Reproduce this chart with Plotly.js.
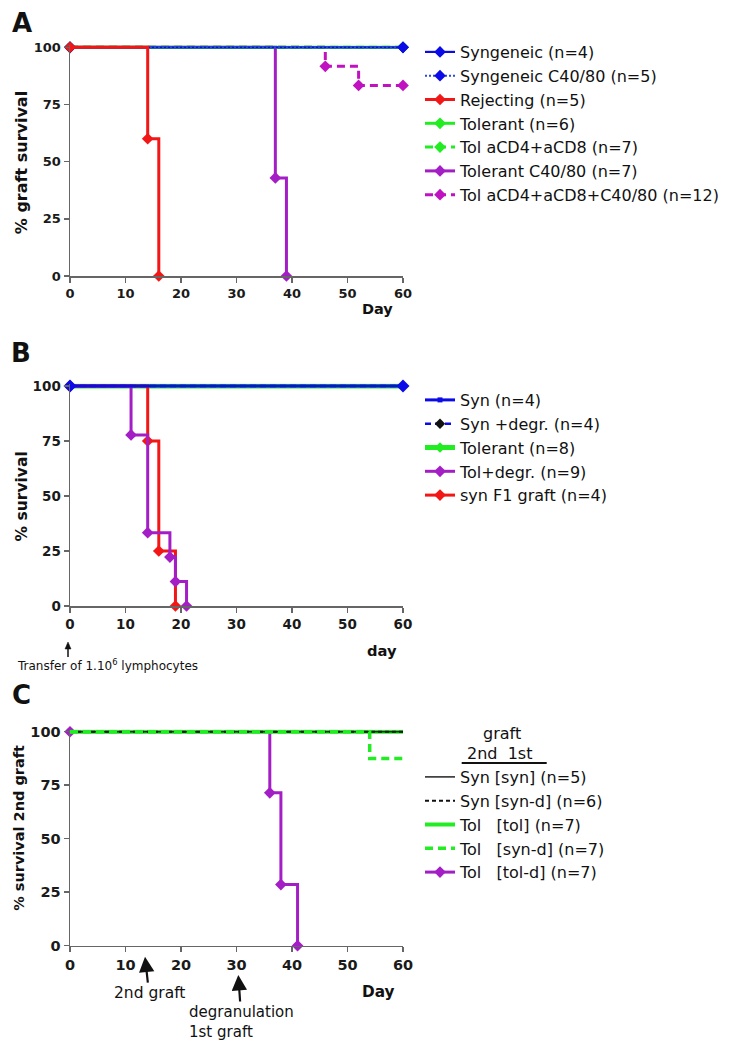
<!DOCTYPE html>
<html>
<head>
<meta charset="utf-8">
<script src="https://cdn.plot.ly/plotly-3.0.1.min.js"></script>
<style>html,body{margin:0;padding:0;background:#fff;}#chart{width:731px;height:1050px;}</style>
</head>
<body>
<div id="chart"></div>
<script>
// ---------- DATA ----------
// Panel A
const A_labels = ["Syngeneic (n=4)", "Syngeneic C40/80 (n=5)", "Rejecting (n=5)", "Tolerant (n=6)",
  "Tol aCD4+aCD8 (n=7)", "Tolerant C40/80 (n=7)", "Tol aCD4+aCD8+C40/80 (n=12)"];
const A_syn_x = [0, 60],            A_syn_y = [100, 100];
const A_synC_x = [0, 60],           A_synC_y = [100, 100];
const A_rej_x = [0, 14, 16],        A_rej_y = [100, 60, 0];
const A_tol_x = [0, 60],            A_tol_y = [100, 100];
const A_tolCD_x = [0, 60],          A_tolCD_y = [100, 100];
const A_tolC_x = [0, 37, 39],       A_tolC_y = [100, 42.86, 0];
const A_tolCDC_x = [0, 46, 52, 60], A_tolCDC_y = [100, 91.67, 83.33, 83.33];

// Panel B
const B_labels = ["Syn (n=4)", "Syn +degr. (n=4)", "Tolerant (n=8)", "Tol+degr. (n=9)", "syn F1 graft (n=4)"];
const B_syn_x = [0, 60],  B_syn_y = [100, 100];
const B_synD_x = [0, 60], B_synD_y = [100, 100];
const B_tol_x = [0, 60],  B_tol_y = [100, 100];
const B_tolD_x = [0, 11, 14, 18, 19, 21], B_tolD_y = [100, 77.78, 33.33, 22.22, 11.11, 0];
const B_f1_x = [0, 14, 16, 19],           B_f1_y = [100, 75, 25, 0];

// Panel C
const C_labels = ["Syn [syn] (n=5)", "Syn [syn-d] (n=6)", "Tol\u00A0\u00A0\u00A0[tol] (n=7)",
  "Tol\u00A0\u00A0\u00A0[syn-d] (n=7)", "Tol\u00A0\u00A0\u00A0[tol-d] (n=7)"];
const C_syn_x = [0, 60],  C_syn_y = [100, 100];
const C_synD_x = [0, 60], C_synD_y = [100, 100];
const C_tol_x = [0, 60],  C_tol_y = [100, 100];
const C_tolSynD_x = [0, 54, 60],      C_tolSynD_y = [100, 87.5, 87.5];
const C_tolD_x = [0, 36, 38, 41],     C_tolD_y = [100, 71.43, 28.57, 0];

// Axis ticks
const xTicks = [0, 10, 20, 30, 40, 50, 60];
const yTicks = [0, 25, 50, 75, 100];

// ---------- STYLE ----------
const W = 731, H = 1050;
const FONT = "DejaVu Sans, sans-serif";
const BLUE = "#0b0be8", RED = "#f21616", GREEN = "#22ec22", PURP = "#a41ec6", MAG = "#c012c0";
const DASH = "8px,5px";
const px = v => v / W;
const py = v => 1 - v / H;

function tr(x, y, name, opt) {
  return Object.assign({
    type: "scatter", mode: "lines+markers", x: x, y: y, name: name,
    line: {shape: "hv", width: 3}, marker: {symbol: "diamond", size: 9},
    cliponaxis: false, hoverinfo: "skip"
  }, opt);
}

const traces = [
  // Panel A (drawing order), legendrank gives the legend order
  tr(A_tolC_x, A_tolC_y, A_labels[5], {xaxis:"x", yaxis:"y", legend:"legend", legendrank:6, line:{shape:"hv", width:3, color:PURP}, marker:{symbol:"diamond", size:9, color:PURP}}),
  tr(A_tolCDC_x, A_tolCDC_y, A_labels[6], {xaxis:"x", yaxis:"y", legend:"legend", legendrank:7, line:{shape:"hv", width:3, color:MAG, dash:DASH}, marker:{symbol:"diamond", size:9, color:MAG}}),
  tr(A_tol_x, A_tol_y, A_labels[3], {xaxis:"x", yaxis:"y", legend:"legend", legendrank:4, line:{shape:"hv", width:3, color:GREEN}, marker:{symbol:"diamond", size:9, color:GREEN}}),
  tr(A_tolCD_x, A_tolCD_y, A_labels[4], {xaxis:"x", yaxis:"y", legend:"legend", legendrank:5, line:{shape:"hv", width:3, color:GREEN, dash:DASH}, marker:{symbol:"diamond", size:9, color:GREEN}}),
  tr(A_syn_x, A_syn_y, A_labels[0], {xaxis:"x", yaxis:"y", legend:"legend", legendrank:1, line:{shape:"hv", width:2.2, color:BLUE}, marker:{symbol:"diamond", size:9, color:BLUE}}),
  tr(A_synC_x, A_synC_y, A_labels[1], {xaxis:"x", yaxis:"y", legend:"legend", legendrank:2, line:{shape:"hv", width:2, color:"#2a4ad8", dash:"2px,2px"}, marker:{symbol:"diamond", size:9, color:BLUE}}),
  tr(A_rej_x, A_rej_y, A_labels[2], {xaxis:"x", yaxis:"y", legend:"legend", legendrank:3, line:{shape:"hv", width:3, color:RED}, marker:{symbol:"diamond", size:9, color:RED}}),

  // Panel B
  tr(B_tol_x, B_tol_y, B_labels[2], {xaxis:"x2", yaxis:"y2", legend:"legend2", legendrank:3, line:{shape:"hv", width:5, color:GREEN}, marker:{symbol:"diamond", size:8, color:GREEN}}),
  tr(B_f1_x, B_f1_y, B_labels[4], {xaxis:"x2", yaxis:"y2", legend:"legend2", legendrank:5, line:{shape:"hv", width:3, color:RED}, marker:{symbol:"diamond", size:9, color:RED}}),
  tr(B_tolD_x, B_tolD_y, B_labels[3], {xaxis:"x2", yaxis:"y2", legend:"legend2", legendrank:4, line:{shape:"hv", width:3, color:PURP}, marker:{symbol:"diamond", size:9, color:PURP}}),
  tr(B_synD_x, B_synD_y, B_labels[1], {xaxis:"x2", yaxis:"y2", legend:"legend2", legendrank:2, line:{shape:"hv", width:2.5, color:BLUE, dash:"6px,4px"}, marker:{symbol:"diamond", size:8, color:"#111"}}),
  tr(B_syn_x, B_syn_y, B_labels[0], {xaxis:"x2", yaxis:"y2", legend:"legend2", legendrank:1, line:{shape:"hv", width:3, color:BLUE}, marker:{symbol:"square", size:5, color:BLUE}}),
  tr(B_syn_x, B_syn_y, B_labels[0], {xaxis:"x2", yaxis:"y2", mode:"markers", showlegend:false, marker:{symbol:"diamond", size:10, color:BLUE}}),

  // Panel C
  tr(C_tolD_x, C_tolD_y, C_labels[4], {xaxis:"x3", yaxis:"y3", legend:"legend3", legendrank:5, line:{shape:"hv", width:3, color:PURP}, marker:{symbol:"diamond", size:9, color:PURP}}),
  tr(C_tol_x, C_tol_y, C_labels[2], {xaxis:"x3", yaxis:"y3", legend:"legend3", legendrank:3, mode:"lines", line:{shape:"hv", width:4, color:GREEN}}),
  tr(C_syn_x, C_syn_y, C_labels[0], {xaxis:"x3", yaxis:"y3", legend:"legend3", legendrank:1, mode:"lines", line:{shape:"hv", width:1.5, color:"#222"}}),
  tr(C_synD_x, C_synD_y, C_labels[1], {xaxis:"x3", yaxis:"y3", legend:"legend3", legendrank:2, mode:"lines", line:{shape:"hv", width:2, color:"#111", dash:"4px,3px"}}),
  tr(C_tolSynD_x, C_tolSynD_y, C_labels[3], {xaxis:"x3", yaxis:"y3", legend:"legend3", legendrank:4, mode:"lines", line:{shape:"hv", width:3.5, color:GREEN, dash:DASH}})
];

function xax(anchor, fs) {
  return {domain:[px(70), px(403)], range:[0, 60], anchor:anchor, tickvals:xTicks, ticks:"outside", ticklen:5,
    tickwidth:1.5, tickcolor:"#666", showline:true, linecolor:"#666", linewidth:1.5, showgrid:false, zeroline:false,
    tickfont:{family:FONT, size:fs, color:"#1a1a1a", weight:"bold"}, fixedrange:true};
}
function yax(anchor, top, bottom, fs) {
  return {domain:[py(bottom), py(top)], range:[0, 101], anchor:anchor, tickvals:yTicks, ticks:"outside", ticklen:5,
    tickwidth:1.5, tickcolor:"#666", showline:true, linecolor:"#666", linewidth:1.5, showgrid:false, zeroline:false,
    tickfont:{family:FONT, size:fs, color:"#1a1a1a", weight:"bold"}, fixedrange:true};
}
function leg(left, top) {
  return {x:px(left), xanchor:"left", y:py(top), yanchor:"top", bgcolor:"rgba(0,0,0,0)", borderwidth:0,
    font:{family:FONT, size:16, color:"#111"}, tracegroupgap:0, itemwidth:30, itemclick:false, itemdoubleclick:false};
}
function ann(x, y, text, size, bold, extra) {
  return Object.assign({xref:"paper", yref:"paper", x:px(x), y:py(y), text:text, showarrow:false,
    xanchor:"center", yanchor:"middle", font:{family:FONT, size:size, color:"#111", weight:bold ? "bold" : "normal"}}, extra || {});
}

const layout = {
  width:W, height:H, margin:{l:0, r:0, t:0, b:0}, paper_bgcolor:"#fff", plot_bgcolor:"#fff",
  showlegend:true,
  xaxis: xax("y", 13), yaxis: yax("x", 45.0, 276, 13),
  xaxis2: xax("y2", 13.5), yaxis2: yax("x2", 383.8, 606, 13.5),
  xaxis3: xax("y3", 14.5), yaxis3: yax("x3", 729.6, 945.7, 14.5),
  legend: leg(420, 35), legend2: leg(420, 383), legend3: leg(420, 760),
  annotations: [
    ann(22, 23, "A", 26, true), ann(21, 353, "B", 26, true), ann(21, 695, "C", 26, true),
    ann(21.7, 162.5, "% graft survival", 16, true, {textangle:-90}),
    ann(21.7, 496.7, "% survival", 15.5, true, {textangle:-90}),
    ann(18.3, 827.5, "% survival 2nd graft", 14.5, true, {textangle:-90}),
    ann(377.5, 309, "Day", 14.5, true),
    ann(382, 650, "day", 14.7, true),
    ann(378, 992, "Day", 15.3, true),
    ann(107, 665, "Transfer of 1.10<sup>6</sup> lymphocytes", 12, false),
    ann(149, 993, "2nd graft", 15.5, false, {showarrow:true, x:px(145), y:py(956.7), ax:4, ay:36.5,
      arrowhead:2, arrowsize:1.4, arrowwidth:2.2, arrowcolor:"#111"}),
    ann(241.5, 1022, "degranulation<br>1st graft", 15, false, {align:"left", showarrow:true, x:px(238.3), y:py(975), ax:3.2, ay:47,
      arrowhead:2, arrowsize:1.4, arrowwidth:2.2, arrowcolor:"#111"}),
    ann(501.7, 733, "graft", 16, false),
    ann(499, 753, "2nd\u00A0\u00A01st", 16, false)
  ],
  shapes: [
    {type:"line", xref:"paper", yref:"paper", x0:px(461.7), x1:px(546.7), y0:py(763), y1:py(763), line:{color:"#111", width:2}},
    // small arrow under panel B (transfer at day 0)
    {type:"line", xref:"paper", yref:"paper", x0:px(68), x1:px(68), y0:py(657), y1:py(647), line:{color:"#111", width:1.5}},
    {type:"path", xref:"paper", yref:"paper",
      path:"M " + px(68) + " " + py(642) + " L " + px(71) + " " + py(649) + " L " + px(65) + " " + py(649) + " Z",
      fillcolor:"#111", line:{color:"#111", width:0.5}}
  ]
};

Plotly.newPlot("chart", traces, layout, {staticPlot:true, displayModeBar:false});
</script>
</body>
</html>
